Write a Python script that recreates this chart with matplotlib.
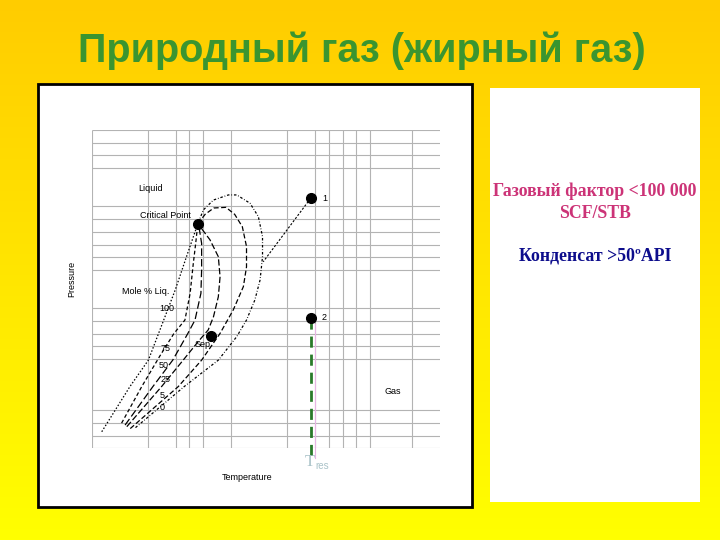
import numpy as np
import matplotlib.pyplot as plt
from matplotlib.patches import Rectangle

# сетка фазовой диаграммы, условные единицы 0..100
grid_x = [0, 16, 24, 28, 32, 40, 56, 64, 68, 72, 76, 80, 92]
grid_y = [0, 4, 8, 12, 28, 32, 36, 40, 44, 56, 60, 64, 68, 72, 76, 88, 92, 96, 100]

# линии мольной доли жидкости (снизу слева -> критическая точка)
liq100_x = [2.8, 10.9, 16.2, 20.5, 23.9, 27.4, 30.4]
liq100_y = [5.2, 19.4, 27.7, 40.0, 49.7, 61.0, 70.5]

liq75_x = [8.5, 14.3, 19.5, 23.5, 26.7, 28.2, 29.1, 29.8, 30.4]
liq75_y = [7.9, 19.4, 29.0, 36.0, 40.3, 48.7, 58.0, 64.4, 70.5]

liq50_x = [9.5, 17.5, 23.2, 27.5, 29.6, 31.3, 31.5, 31.5, 30.9, 30.4]
liq50_y = [7.3, 19.4, 27.7, 36.0, 40.3, 48.7, 56.0, 64.4, 68.5, 70.5]

liq25_x = [10.0, 20.0, 26.2, 30.5, 33.4, 34.9, 36.3, 36.8, 36.3, 33.9, 31.5, 30.4]
liq25_y = [6.8, 19.4, 27.7, 33.5, 37.2, 41.3, 47.6, 53.9, 60.2, 65.5, 69.0, 70.5]

liq5_x = [11.0, 24.8, 31.5, 36.8, 40.6, 43.5, 44.4, 44.4, 43.2, 41.0, 38.5, 35.0, 32.5, 30.4]
liq5_y = [6.2, 19.4, 27.7, 36.1, 43.5, 50.8, 57.0, 63.4, 69.6, 73.5, 75.7, 75.5, 73.5, 70.5]

liq0_x = [12.5, 26.5, 36.3, 41.6, 44.4, 46.8, 48.3, 49.0, 49.0, 47.8, 45.4, 41.6, 39.2, 34.9, 32.0, 30.4]
liq0_y = [6.5, 19.4, 27.7, 35.1, 40.3, 46.6, 52.9, 60.2, 66.5, 72.8, 77.0, 79.6, 79.6, 78.0, 74.9, 70.5]

curves = [(liq100_x, liq100_y, (0, (1.2, 1.5))),
          (liq75_x, liq75_y, (0, (3, 2))),
          (liq50_x, liq50_y, (0, (6, 2.5))),
          (liq25_x, liq25_y, (0, (5, 2))),
          (liq5_x, liq5_y, (0, (4, 2))),
          (liq0_x, liq0_y, (0, (2, 1.5, 0.6, 1.5)))]

quality_labels = ['100', '75', '50', '25', '5', '0']
quality_lx = [21.5, 21.0, 20.7, 21.1, 20.1, 20.2]
quality_ly = [43.9, 31.4, 26.0, 21.5, 16.7, 12.9]

# точки
points_x = [30.4, 34.2, 62.8, 62.8]
points_y = [70.5, 35.2, 78.5, 41.0]
path_x = [62.8, 49.2]
path_y = [78.5, 58.6]
tres_x = 62.8

fig = plt.figure(figsize=(7.2, 5.4), dpi=100)

# фон слайда: градиент от оранжево-жёлтого к жёлтому
bg = fig.add_axes([0, 0, 1, 1])
grad = np.linspace(0, 1, 540)[:, None]
top = np.array([1.0, 0.80, 0.0])
bot = np.array([1.0, 1.0, 0.0])
img = top[None, None, :] * (1 - grad[:, :, None]) + bot[None, None, :] * grad[:, :, None]
bg.imshow(img, extent=[0, 720, 540, 0], aspect='auto')
bg.set_xlim(0, 720)
bg.set_ylim(540, 0)
bg.axis('off')

bg.add_patch(Rectangle((38, 84), 434, 423, facecolor='white', edgecolor='black', lw=2))
bg.add_patch(Rectangle((490, 88), 210, 414, facecolor='white', edgecolor='none'))

bg.text(362, 51, 'Природный газ (жирный газ)', ha='center', va='center',
        fontsize=28.5, fontweight='bold', color='#3a9530', family='Liberation Sans')

bg.text(595, 191, 'Газовый фактор <100 000', ha='center', va='center',
        fontsize=12.8, fontweight='bold', color='#cc3377', family='Liberation Serif')
bg.text(595, 213, 'SCF/STB', ha='center', va='center',
        fontsize=12.8, fontweight='bold', color='#cc3377', family='Liberation Serif')
bg.text(595, 256, 'Конденсат >50ºAPI', ha='center', va='center',
        fontsize=12.8, fontweight='bold', color='#0d0d8c', family='Liberation Serif')

# диаграмма
ax = fig.add_axes([92 / 720, (540 - 448.3) / 540, 348 / 720, 318.3 / 540])
ax.set_xlim(0, 100)
ax.set_ylim(0, 100)
ax.axis('off')

ax.vlines(grid_x, 0, 100, color='#b3b3b3', lw=0.8)
ax.hlines(grid_y, 0, 100, color='#b3b3b3', lw=0.8)

for cx, cy, ls in curves:
    ax.plot(cx, cy, color='black', lw=0.9, ls=ls)

ax.plot(path_x, path_y, color='black', lw=0.8, ls=(0, (2, 1.5)))

ax.plot([tres_x + 1.3, tres_x + 1.3], [points_y[3] - 2, -3], color='#e8b4e4', lw=0.8, clip_on=False)
ax.plot([tres_x, tres_x], [points_y[3], -3.5], color='#2a7a2a', lw=2, ls=(0, (4, 2.5)), clip_on=False)

ax.plot(points_x, points_y, 'o', color='black', ms=7)

lab = dict(fontsize=6.5, family='Liberation Sans', color='black')
ax.text(16.7, 81.7, 'Liquid', ha='center', va='center', **lab)
ax.text(28.5, 73.0, 'Critical Point', ha='right', va='center', **lab)
ax.text(15.5, 49.2, 'Mole % Liq.', ha='center', va='center', **lab)
for s, lx, ly in zip(quality_labels, quality_lx, quality_ly):
    ax.text(lx, ly, s, ha='center', va='center', **lab)
ax.text(31.7, 32.5, 'Sep', ha='center', va='center', **lab)
ax.text(86.4, 17.8, 'Gas', ha='center', va='center', **lab)
ax.text(67.0, 78.6, '1', ha='center', va='center', **lab)
ax.text(66.7, 41.0, '2', ha='center', va='center', **lab)
ax.text(-5.7, 53.1, 'Pressure', ha='center', va='center', rotation=90, **lab)
ax.text(44.6, -9.1, 'Temperature', ha='center', va='center', clip_on=False, **lab)
ax.text(tres_x - 0.3, -4.3, 'T', ha='center', va='center', fontsize=12,
        family='Liberation Serif', color='#a9c2c8')
ax.text(tres_x + 3.3, -5.5, 'res', ha='center', va='center', fontsize=7,
        family='Liberation Sans', color='#a9c2c8')

fig.savefig('out.png', dpi=100)
